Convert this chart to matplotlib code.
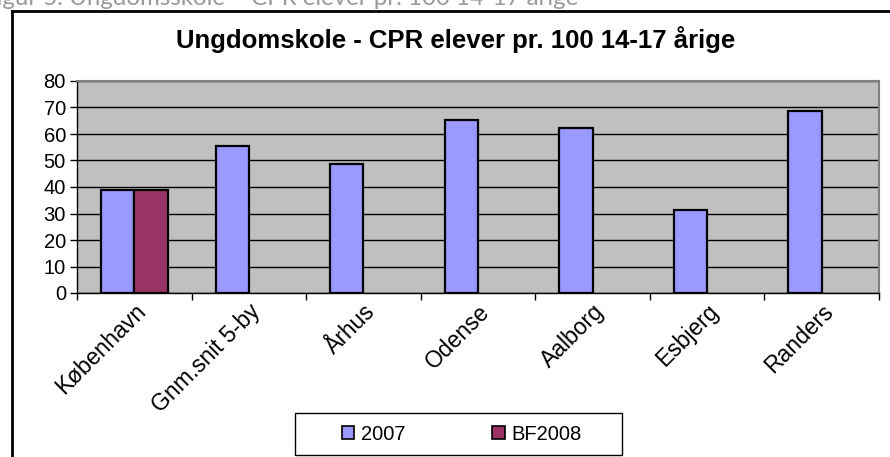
import matplotlib.pyplot as plt
import numpy as np
from matplotlib.lines import Line2D
from matplotlib.patches import Rectangle

categories = ["København", "Gnm.snit 5-by", "Århus", "Odense", "Aalborg", "Esbjerg", "Randers"]
values_2007 = [39, 55.6, 48.8, 65.4, 62.4, 31.5, 68.5]
values_bf2008 = [39, None, None, None, None, None, None]
series_names = ["2007", "BF2008"]
yticks = [0, 10, 20, 30, 40, 50, 60, 70, 80]

plt.rcParams['font.family'] = ['Liberation Sans', 'DejaVu Sans']

W, H = 890, 457
fig = plt.figure(figsize=(W / 100, H / 100), dpi=100)
ax = fig.add_axes([77 / W, 1 - 293 / H, (879 - 77) / W, (293 - 81) / H])

x = np.arange(len(categories))
w = 0.29
bf_x = [xi for xi, v in zip(x, values_bf2008) if v is not None]
bf_v = [v for v in values_bf2008 if v is not None]

ax.bar(x - w / 2, values_2007, width=w, color="#9999FF", edgecolor="black", linewidth=1.6,
       label=series_names[0], zorder=3)
ax.bar(np.array(bf_x) + w / 2, bf_v, width=w, color="#993366", edgecolor="black", linewidth=1.6,
       label=series_names[1], zorder=3)

ax.set_facecolor("#C0C0C0")
ax.set_xlim(-0.5, len(categories) - 0.5)
ax.set_ylim(0, 80)
ax.set_yticks(yticks)
ax.yaxis.grid(True, color="black", linewidth=1, zorder=1)
ax.set_axisbelow(True)

ax.set_xticks(np.arange(len(categories) + 1) - 0.5, minor=False)
ax.set_xticklabels([])
ax.set_xticks(x, minor=True)
ax.set_xticklabels(categories, minor=True, rotation=45, ha="right", rotation_mode="anchor",
                   fontsize=16.5)
ax.tick_params(axis="x", which="minor", length=0, pad=5)
ax.tick_params(axis="x", which="major", length=5, width=1, direction="out")
ax.tick_params(axis="y", length=5, width=1, labelsize=14.5, pad=3)

for s in ["top", "right"]:
    ax.spines[s].set_color("#808080")
    ax.spines[s].set_linewidth(1.5)
for s in ["left", "bottom"]:
    ax.spines[s].set_color("black")
    ax.spines[s].set_linewidth(1)

fig.text(456 / W, 1 - 48 / H, "Ungdomskole - CPR elever pr. 100 14-17 årige",
         ha="center", va="baseline", fontsize=18.5, fontweight="bold")

# legend: entries without frame, box drawn separately
leg = fig.legend(loc="center", bbox_to_anchor=(462 / W, 1 - 434 / H), ncol=2,
                 fontsize=14.5, frameon=False,
                 handlelength=0.6, handleheight=0.6, handletextpad=0.35, columnspacing=4.3)
for h in leg.legend_handles:
    h.set_linewidth(1.2)
fig.add_artist(Rectangle((295 / W, 1 - 455 / H), (622 - 295) / W, (455 - 413) / H,
                         transform=fig.transFigure, fill=False, edgecolor="black", linewidth=1))

# caption above the chart, clipped at the top
fig.text(-17 / W, 1 - 5 / H, "Figur 5. Ungdomsskole – CPR elever pr. 100 14-17 årige",
         ha="left", va="baseline", fontsize=17.3, color="#999999", family=["Lato", "DejaVu Sans"])

# outer chart frame
fig.add_artist(Line2D([12 / W, 1.01], [1 - 11 / H, 1 - 11 / H], color="black", linewidth=2))
fig.add_artist(Line2D([12 / W, 12 / W], [1 - 11 / H, -0.01], color="black", linewidth=2))

fig.savefig("out.png", dpi=100)
